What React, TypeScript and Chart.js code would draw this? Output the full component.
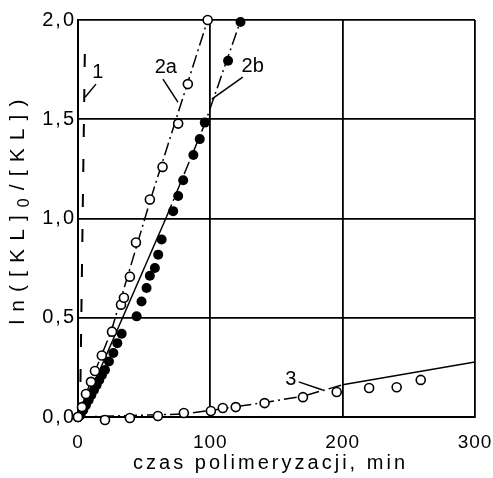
import React, { useEffect, useRef } from 'react';
import { Chart, registerables } from 'chart.js';

Chart.register(...registerables);

// Axis ticks
const xTicks = [0, 100, 200, 300];
const yTicks = [0, 0.5, 1.0, 1.5, 2.0];

// Curve 1 (dashed, almost vertical)
const line1X = [1.5, 5.3];
const line1Y = [0, 1.9];

// Curve 2a: measured points (open circles) and drawn curve
const pts2aX = [0, 3, 6, 9.8, 12.8, 18, 25.7, 32.5, 34.7, 39.2, 43.8, 54.3, 63.9, 75.7, 83, 98];
const pts2aY = [0, 0.05, 0.116, 0.177, 0.232, 0.31, 0.43, 0.566, 0.601, 0.707, 0.879, 1.096, 1.26, 1.478, 1.677, 2.0];
const line2aX = [0, 8, 25, 55, 98];
const line2aY = [0, 0.15, 0.43, 1.1, 2.0];

// Curve 2b: measured points (filled circles) and drawn curve
const pts2bX = [2, 4, 6, 8, 10, 12, 14, 16, 18, 20.4, 23.4, 26.7, 29.7, 33, 44.3, 48, 51.8, 54.3, 58.1, 60.6, 63.2, 71.9, 75.7, 79.5, 87.2, 92, 95.8, 113.4, 122.8];
const pts2bY = [0.01, 0.035, 0.06, 0.085, 0.11, 0.135, 0.16, 0.185, 0.21, 0.237, 0.28, 0.322, 0.372, 0.419, 0.507, 0.582, 0.65, 0.712, 0.751, 0.818, 0.894, 1.037, 1.113, 1.193, 1.32, 1.4, 1.483, 1.795, 1.99];
const line2bSolidX = [1, 67];
const line2bSolidY = [0, 1.01];
const line2bDashX = [67, 96, 123];
const line2bDashY = [1.01, 1.48, 2.0];

// Curve 3: measured points (open circles) and drawn curve
const pts3X = [0, 20.4, 39.2, 60.4, 80, 100.4, 109.4, 119.2, 141, 170, 195.5, 220, 240.8, 259];
const pts3Y = [0, -0.015, -0.005, 0.005, 0.02, 0.03, 0.045, 0.05, 0.07, 0.1, 0.126, 0.146, 0.15, 0.187];
const line3DashX = [0, 80, 100, 140, 170, 200];
const line3DashY = [0, 0.015, 0.033, 0.072, 0.105, 0.162];
const line3SolidX = [200, 300];
const line3SolidY = [0.162, 0.277];

// Curve labels with their leader lines (data coordinates)
const curveLabels = [
  { text: '1', x: 15, y: 1.737, leader: [13.6, 1.677, 5.3, 1.611] },
  { text: '2a', x: 66.4, y: 1.763, leader: [64.2, 1.702, 75.5, 1.586] },
  { text: '2b', x: 132, y: 1.768, leader: [124.5, 1.712, 101.1, 1.601] },
  { text: '3', x: 160.8, y: 0.187, leader: [166.8, 0.177, 184.9, 0.136] },
];

const xTitle = 'czas polimeryzacji, min';

const xy = (xs: number[], ys: number[]) => xs.map((x, i) => ({ x, y: ys[i] }));
const fmt = (v: number) => v.toFixed(1).replace('.', ',');

const FONT = '"Liberation Sans", Arial, sans-serif';
const DASH_DOT = [13, 4, 2, 4];

function drawSpacedChars(ctx: CanvasRenderingContext2D, parts: { t: string; f: string; dy: number }[], cx: number, cy: number, target: number) {
  let natural = 0;
  let count = 0;
  for (const p of parts) {
    ctx.font = p.f;
    for (const ch of p.t) {
      natural += ctx.measureText(ch).width;
      count++;
    }
  }
  const gap = count > 1 ? (target - natural) / (count - 1) : 0;
  let pos = cx - target / 2;
  ctx.textAlign = 'left';
  ctx.textBaseline = 'middle';
  for (const p of parts) {
    ctx.font = p.f;
    for (const ch of p.t) {
      ctx.fillText(ch, pos, cy + p.dy);
      pos += ctx.measureText(ch).width + gap;
    }
  }
}

const textPlugin = {
  id: 'textPlugin',
  afterDraw(chart: any) {
    const { ctx, scales } = chart;
    const xs = scales.x;
    const ys = scales.y;
    ctx.save();
    ctx.fillStyle = '#000';
    ctx.strokeStyle = '#000';

    // y tick labels
    ctx.font = `20px ${FONT}`;
    ctx.letterSpacing = '2px';
    ctx.textAlign = 'right';
    ctx.textBaseline = 'middle';
    yTicks.forEach((v) => ctx.fillText(fmt(v), xs.left - 2, ys.getPixelForValue(v)));

    // x tick labels
    ctx.font = `19px ${FONT}`;
    ctx.letterSpacing = '1px';
    ctx.textAlign = 'center';
    xTicks.forEach((v) => ctx.fillText(String(v), xs.getPixelForValue(v), ys.bottom + 26));
    ctx.letterSpacing = '0px';

    // x axis title
    drawSpacedChars(ctx, [{ t: xTitle, f: `20px ${FONT}`, dy: 0 }], 269, 463, 272);

    // y axis title with subscript
    ctx.save();
    ctx.translate(18, 212);
    ctx.rotate(-Math.PI / 2);
    drawSpacedChars(
      ctx,
      [
        { t: 'ln([KL]', f: `21px ${FONT}`, dy: 0 },
        { t: '0', f: `16px ${FONT}`, dy: 7 },
        { t: '/[KL])', f: `21px ${FONT}`, dy: 0 },
      ],
      0,
      0,
      225
    );
    ctx.restore();

    // curve labels and leaders
    ctx.font = `20px ${FONT}`;
    ctx.textAlign = 'center';
    ctx.textBaseline = 'middle';
    ctx.lineWidth = 1.5;
    curveLabels.forEach((l) => {
      ctx.fillText(l.text, xs.getPixelForValue(l.x), ys.getPixelForValue(l.y));
      const [x1, y1, x2, y2] = l.leader;
      ctx.beginPath();
      ctx.moveTo(xs.getPixelForValue(x1), ys.getPixelForValue(y1));
      ctx.lineTo(xs.getPixelForValue(x2), ys.getPixelForValue(y2));
      ctx.stroke();
    });
    ctx.restore();
  },
};

export default function App() {
  const ref = useRef<HTMLCanvasElement>(null);

  useEffect(() => {
    document.body.style.margin = '0';
    if (!ref.current) return;

    const openPts = {
      showLine: false,
      pointRadius: 4.5,
      pointBorderWidth: 1.6,
      pointBorderColor: '#000',
      pointBackgroundColor: '#fff',
      clip: false as any,
    };
    const filledPts = {
      showLine: false,
      pointRadius: 5,
      pointBorderWidth: 0,
      pointBorderColor: '#000',
      pointBackgroundColor: '#000',
      clip: false as any,
    };
    const lineStyle = (dash: number[], width = 1.5) => ({
      showLine: true,
      pointRadius: 0,
      borderColor: '#000',
      borderWidth: width,
      borderDash: dash,
      fill: false,
      tension: 0,
    });

    const chart = new Chart(ref.current, {
      type: 'scatter',
      data: {
        datasets: [
          { label: '2a pts', data: xy(pts2aX, pts2aY), ...openPts },
          { label: '2b pts', data: xy(pts2bX, pts2bY), ...filledPts },
          { label: '3 pts', data: xy(pts3X, pts3Y), ...openPts },
          { label: '1', data: xy(line1X, line1Y), ...lineStyle([13, 22], 2) },
          { label: '2a', data: xy(line2aX, line2aY), ...lineStyle(DASH_DOT) },
          { label: '2b', data: xy(line2bSolidX, line2bSolidY), ...lineStyle([]) },
          { label: '2b upper', data: xy(line2bDashX, line2bDashY), ...lineStyle(DASH_DOT) },
          { label: '3', data: xy(line3DashX, line3DashY), ...lineStyle(DASH_DOT) },
          { label: '3 upper', data: xy(line3SolidX, line3SolidY), ...lineStyle([]) },
        ],
      },
      options: {
        animation: false,
        responsive: false,
        layout: { padding: { top: 20, right: 18, left: 0, bottom: 0 } },
        plugins: { legend: { display: false }, tooltip: { enabled: false } },
        scales: {
          x: {
            type: 'linear',
            min: 0,
            max: 300,
            ticks: { stepSize: 100, display: false },
            grid: { color: '#000', lineWidth: 1.8, drawTicks: false },
            border: { color: '#000', width: 2 },
            afterFit: (s: any) => {
              s.height = 61;
            },
          },
          y: {
            type: 'linear',
            min: 0,
            max: 2,
            ticks: { stepSize: 0.5, display: false },
            grid: { color: '#000', lineWidth: 1.8, drawTicks: false },
            border: { color: '#000', width: 2 },
            afterFit: (s: any) => {
              s.width = 78;
            },
          },
        },
      },
      plugins: [textPlugin],
    });

    return () => chart.destroy();
  }, []);

  return <canvas ref={ref} width={493} height={478} />;
}
